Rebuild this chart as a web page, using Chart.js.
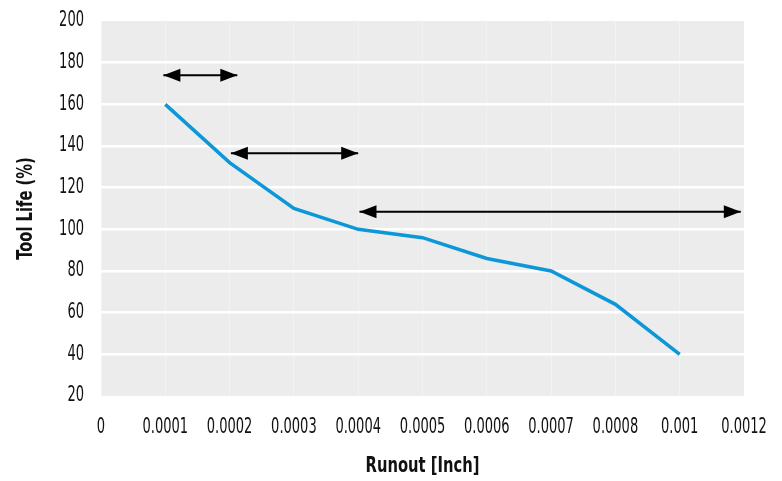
<!DOCTYPE html>
<html>
<head>
<meta charset="utf-8">
<script src="https://cdn.jsdelivr.net/npm/chart.js@4"></script>
<style>
html,body{margin:0;padding:0;background:#fff;}
#wrap{width:782px;height:481px;position:relative;}
</style>
</head>
<body>
<div id="wrap"><canvas id="c" width="782" height="481"></canvas></div>
<script>
// Tick labels on the category-style x axis (positions 0..10)
const xLabels = ['0','0.0001','0.0002','0.0003','0.0004','0.0005','0.0006','0.0007','0.0008','0.001','0.0012'];
// Runout data: position index on x axis and tool life values
const runoutPos = [1, 2, 3, 4, 5, 6, 7, 8, 9];
const toolLife = [160, 132, 110, 100, 96, 86, 80, 64, 40];
// Y tick values
const yMin = 20, yMax = 200, yStep = 20;
// Double-headed arrows (start position, end position, level)
const arrowStart = [0.97, 2.02, 4.02];
const arrowEnd = [2.12, 4.0, 9.95];
const arrowLevel = [174, 136.5, 108.5];

const FONT = "'DejaVu Sans Condensed', 'DejaVu Sans', sans-serif";
// emulate a condensed typeface by compressing glyphs horizontally
function condenseFor(font) {
  return /bold/.test(font) ? 0.78 : 0.69;
}

const canvas = document.getElementById('c');
const ctx2d = canvas.getContext('2d');
(function patchText(ctx) {
  const origFill = ctx.fillText.bind(ctx);
  const origMeasure = ctx.measureText.bind(ctx);
  ctx.fillText = function (t, x, y) {
    const f = condenseFor(ctx.font);
    ctx.save();
    ctx.translate(x, y);
    ctx.scale(f, 1);
    origFill(t, 0, 0);
    ctx.restore();
  };
  ctx.measureText = function (t) {
    const f = condenseFor(ctx.font);
    const m = origMeasure(t);
    return {
      width: m.width * f,
      actualBoundingBoxAscent: m.actualBoundingBoxAscent,
      actualBoundingBoxDescent: m.actualBoundingBoxDescent,
      actualBoundingBoxLeft: m.actualBoundingBoxLeft * f,
      actualBoundingBoxRight: m.actualBoundingBoxRight * f
    };
  };
})(ctx2d);

const datasets = [{
  label: 'Tool Life',
  data: runoutPos.map((x, i) => ({x, y: toolLife[i]})),
  borderColor: '#0b97d8',
  borderWidth: 3.5,
  pointRadius: 0,
  tension: 0,
  fill: false,
  order: 2
}];
arrowStart.forEach((s, i) => {
  datasets.push({
    label: 'arrow' + i,
    data: [{x: s, y: arrowLevel[i]}, {x: arrowEnd[i], y: arrowLevel[i]}],
    borderColor: '#000',
    borderWidth: 2,
    pointRadius: 0,
    isArrow: true,
    order: 1
  });
});

const bgPlugin = {
  id: 'bg',
  beforeDraw(chart) {
    const {ctx, chartArea: a} = chart;
    ctx.save();
    ctx.fillStyle = '#ececec';
    ctx.fillRect(a.left, a.top, a.right - a.left, a.bottom - a.top);
    ctx.restore();
  }
};
const arrowPlugin = {
  id: 'arrowHeads',
  afterDatasetsDraw(chart) {
    const ctx = chart.ctx;
    chart.data.datasets.forEach((ds, i) => {
      if (!ds.isArrow) return;
      const pts = chart.getDatasetMeta(i).data;
      const p0 = pts[0], p1 = pts[1];
      const L = 17, W = 6.5;
      ctx.save();
      ctx.fillStyle = '#000';
      ctx.beginPath();
      ctx.moveTo(p0.x, p0.y);
      ctx.lineTo(p0.x + L, p0.y - W);
      ctx.lineTo(p0.x + L, p0.y + W);
      ctx.closePath();
      ctx.fill();
      ctx.beginPath();
      ctx.moveTo(p1.x, p1.y);
      ctx.lineTo(p1.x - L, p1.y - W);
      ctx.lineTo(p1.x - L, p1.y + W);
      ctx.closePath();
      ctx.fill();
      ctx.restore();
    });
  }
};

new Chart(canvas, {
  type: 'line',
  data: {datasets},
  options: {
    responsive: false,
    animation: false,
    layout: {padding: {left: 0, right: 38, top: 21, bottom: 0}},
    plugins: {legend: {display: false}, tooltip: {enabled: false}},
    scales: {
      x: {
        type: 'linear',
        min: 0, max: xLabels.length - 1,
        afterFit(s) { s.height = 85; s.paddingLeft = 0; s.paddingRight = 0; },
        afterBuildTicks(s) { s.ticks = xLabels.map((_, i) => ({value: i})); },
        ticks: {
          autoSkip: false,
          maxRotation: 0,
          padding: 19,
          color: '#111',
          font: {family: FONT, size: 21},
          callback: (v) => xLabels[v]
        },
        grid: {color: 'rgba(255,255,255,0.3)', lineWidth: 1, drawTicks: false},
        border: {display: false},
        title: {display: true, text: 'Runout [Inch]', color: '#111', font: {family: FONT, size: 21, weight: 'bold'}, padding: {top: 0, bottom: 2}}
      },
      y: {
        min: yMin, max: yMax,
        afterFit(s) { s.width = 101; s.paddingTop = 0; s.paddingBottom = 0; },
        ticks: {stepSize: yStep, padding: 17, color: '#111', font: {family: FONT, size: 21}},
        grid: {
          color: (c) => (c.tick && (c.tick.value === yMin || c.tick.value === yMax)) ? 'rgba(0,0,0,0)' : '#ffffff',
          lineWidth: 2.5, drawTicks: false
        },
        border: {display: false},
        title: {display: true, text: 'Tool Life (%)', color: '#111', font: {family: FONT, size: 21, weight: 'bold'}, padding: {top: 14, bottom: 0}}
      }
    }
  },
  plugins: [bgPlugin, arrowPlugin]
});
</script>
</body>
</html>
